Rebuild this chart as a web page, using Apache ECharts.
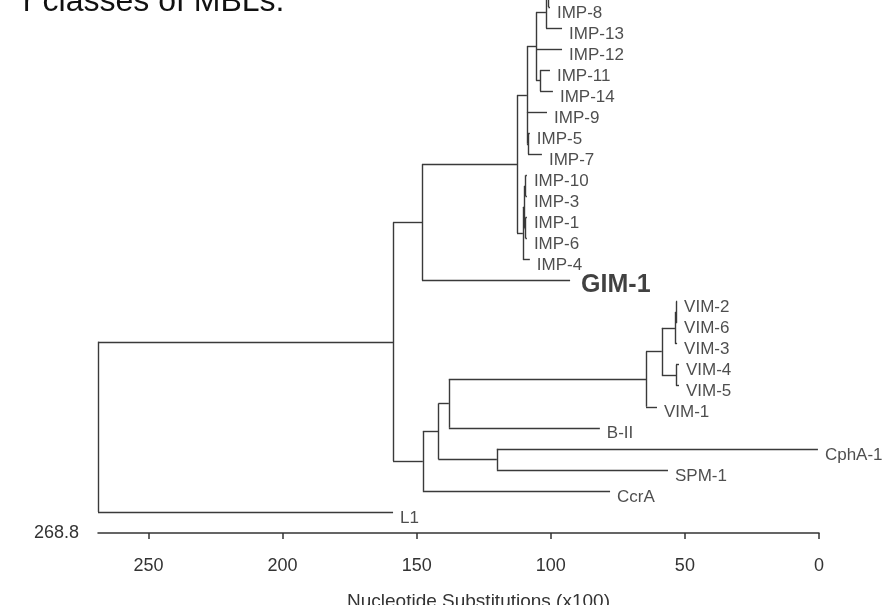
<!DOCTYPE html>
<html>
<head>
<meta charset="utf-8">
<script src="https://cdn.jsdelivr.net/npm/echarts@6/dist/echarts.min.js"></script>
<style>
  html, body { margin: 0; padding: 0; background: #fff; }
  #chart { width: 882px; height: 605px; }
</style>
</head>
<body>
<div id="chart"></div>
<script>
// leaves, top to bottom (row), with their tip distance (substitutions x100)
const leafNames = ['IMP-2', 'IMP-8', 'IMP-13', 'IMP-12', 'IMP-11', 'IMP-14', 'IMP-9', 'IMP-5', 'IMP-7',
  'IMP-10', 'IMP-3', 'IMP-1', 'IMP-6', 'IMP-4', 'GIM-1', 'VIM-2', 'VIM-6', 'VIM-3', 'VIM-4', 'VIM-5',
  'VIM-1', 'B-II', 'CphA-1', 'SPM-1', 'CcrA', 'L1'];
const leafRows = [-1, 0, 1, 2, 3, 4, 5, 6, 7, 8, 9, 10, 11, 12, 13, 14, 15, 16, 17, 18, 19, 20, 21, 22, 23, 24];
const leafDist = [100.3, 100.3, 95.8, 95.8, 100.3, 99.2, 101.4, 107.8, 103.3,
  108.9, 108.9, 108.9, 108.9, 107.8, 92.8, 52.9, 52.9, 52.9, 52.2, 52.2,
  60.4, 81.7, 0.4, 56.3, 77.9, 158.8];
const leafParent = ['Y', 'Y', 'W', 'U', 'X', 'X', 'G', 'V', 'V',
  'R', 'R', 'S', 'S', 'P', 'C', 'N2', 'N2', 'N', 'O', 'O',
  'L', 'J', 'K', 'K', 'H', 'root'];

// internal nodes
const nodeNames = ['root', 'B', 'C', 'D', 'G', 'U', 'W', 'Y', 'X', 'V', 'P', 'Q', 'R', 'S',
  'H', 'I', 'J', 'L', 'M', 'N', 'N2', 'O', 'K'];
const nodeDist = [268.8, 158.8, 148.0, 112.6, 108.9, 105.5, 101.8, 100.9, 104.0, 108.5, 110.4, 109.8, 109.4, 109.4,
  147.7, 141.9, 138.0, 64.5, 58.6, 53.7, 53.3, 53.3, 120.1];
const nodeParent = [null, 'root', 'B', 'C', 'D', 'G', 'U', 'W', 'U', 'G', 'D', 'P', 'Q', 'Q',
  'B', 'H', 'I', 'J', 'L', 'M', 'N', 'M', 'I'];

const axisTicks = [0, 50, 100, 150, 200, 250];
const axisMax = 268.8;

const distOf = {};
const parentOf = {};
const children = {};
const rowOf = {};
nodeNames.forEach((n, i) => { distOf[n] = nodeDist[i]; parentOf[n] = nodeParent[i]; });
leafNames.forEach((n, i) => { distOf[n] = leafDist[i]; parentOf[n] = leafParent[i]; rowOf[n] = leafRows[i]; });
Object.keys(parentOf).forEach((n) => {
  const p = parentOf[n];
  if (p) (children[p] = children[p] || []).push(n);
});

function getRow(name) {
  if (name in rowOf) return rowOf[name];
  const rows = children[name].map(getRow);
  rowOf[name] = (Math.min(...rows) + Math.max(...rows)) / 2;
  return rowOf[name];
}
nodeNames.forEach(getRow);

// build branch segments
const segments = [];
nodeNames.forEach((n) => {
  const rows = children[n].map((c) => rowOf[c]);
  segments.push({ coords: [[distOf[n], Math.min(...rows)], [distOf[n], Math.max(...rows)]] });
});
Object.keys(parentOf).forEach((n) => {
  const p = parentOf[n];
  if (!p) return;
  segments.push({ coords: [[distOf[p], rowOf[n]], [distOf[n], rowOf[n]]] });
});

const labelData = leafNames.map((n) => {
  const item = { value: [distOf[n], rowOf[n], n] };
  if (n === 'GIM-1') {
    item.label = { fontSize: 25, fontWeight: 'bold', color: '#111', distance: 11, offset: [0, 5] };
  }
  return item;
});

const chart = echarts.init(document.getElementById('chart'));
chart.setOption({
  animation: false,
  grid: { left: 98, right: 63, top: 0, bottom: 72 },
  xAxis: {
    type: 'value',
    inverse: true,
    min: 0,
    max: axisMax,
    interval: 50,
    name: String(axisMax),
    nameLocation: 'end',
    nameGap: 19,
    nameTextStyle: { fontSize: 18, color: '#333', fontFamily: 'Liberation Sans' },
    axisLine: { onZero: false, lineStyle: { color: '#333', width: 1.5 } },
    axisTick: { length: 6, lineStyle: { color: '#333', width: 1.5 } },
    axisLabel: {
      fontSize: 18, color: '#333', margin: 24, fontFamily: 'Liberation Sans',
      showMaxLabel: false,
      formatter: (v) => (axisTicks.includes(v) ? String(v) : '')
    },
    splitLine: { show: false }
  },
  yAxis: { type: 'value', inverse: true, min: -0.333, max: 25, show: false },
  graphic: [
    {
      type: 'text', left: 23, top: -14,
      style: { text: 'r classes of MBLs.', fontSize: 32, fill: '#111', fontFamily: 'Liberation Sans' }
    },
    {
      type: 'text', left: 347, top: 592,
      style: { text: 'Nucleotide Substitutions (x100)', fontSize: 19, fill: '#333', fontFamily: 'Liberation Sans' }
    }
  ],
  series: [
    {
      type: 'lines',
      coordinateSystem: 'cartesian2d',
      silent: true,
      clip: false,
      lineStyle: { color: '#3a3a3a', width: 1.4, opacity: 1 },
      data: segments
    },
    {
      type: 'scatter',
      silent: true,
      symbolSize: 0,
      clip: false,
      label: {
        show: true,
        position: 'right',
        distance: 7,
        offset: [0, 6],
        fontSize: 17,
        color: '#222',
        fontFamily: 'Liberation Sans',
        formatter: (p) => p.value[2]
      },
      data: labelData
    }
  ]
});
</script>
</body>
</html>
